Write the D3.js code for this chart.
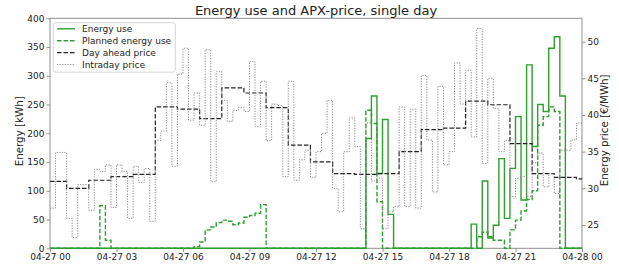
<!DOCTYPE html>
<html><head><meta charset="utf-8">
<script src="https://cdn.jsdelivr.net/npm/d3@7"></script>
<style>
body{margin:0;background:#fff}
svg{display:block}
text{font-family:"DejaVu Sans",sans-serif;fill:#222}
</style>
</head><body>
<svg id="chart" width="619" height="265"></svg>
<script>
// ---------- data ----------
const title = "Energy use and APX-price, single day";
const xTickHours = [0, 3, 6, 9, 12, 15, 18, 21, 24];
const xTickLabels = ["04-27 00","04-27 03","04-27 06","04-27 09","04-27 12","04-27 15","04-27 18","04-27 21","04-28 00"];
const energyTicks = [0, 50, 100, 150, 200, 250, 300, 350, 400];
const priceTicks = [25, 30, 35, 40, 45, 50];
const seriesNames = ["Energy use", "Planned energy use", "Day ahead price", "Intraday price"];

// quarter-hour values (96 per day), kWh
const energyUse = [
  0,0,0,0,0,0,0,0,0,0,0,0,
  0,0,0,0,0,0,0,0,0,0,0,0,
  0,0,0,0,0,0,0,0,0,0,0,0,
  0,0,0,0,0,0,0,0,0,0,0,0,
  0,0,0,0,0,0,0,0,0,191,265,130,
  224,59,0,0,0,0,0,0,0,0,0,0,
  0,0,0,0,42,0,117,18,40,156,52,139,
  229,84,319,177,250,238,348,368,265,0,0,0
];
const plannedUse = [
  0,0,0,0,0,0,0,0,0,74,14,0,
  0,0,0,0,0,0,0,0,0,0,0,0,
  0,0,3,11,32,37,45,49,47,41,44,54,
  57,61,76,0,0,0,0,0,0,0,0,0,
  0,0,0,0,0,0,0,0,0,240,217,81,
  0,0,0,0,0,0,0,0,0,0,0,0,
  0,0,0,0,0,20,28,20,14,14,0,32,
  49,65,85,100,214,229,246,238,0,0,0,0
];
// quarter-hour intraday price, EUR/MWh
const intradayPrice = [
  27.3,34.9,34.9,25.9,23.3,30.5,30.5,27.0,32.6,32.3,33.2,27.4,
  33.2,32.3,25.9,33.0,30.8,32.7,25.5,36.5,37.8,44.4,33.0,45.6,
  49.1,39.3,43.0,38.6,48.9,30.9,45.9,42.0,39.1,40.6,41.0,40.5,
  47.3,38.4,44.6,36.5,41.5,41.3,31.6,44.6,31.1,33.9,35.2,31.5,
  35.0,37.5,42.0,30.0,26.8,35.0,39.6,35.7,24.5,38.9,31.0,31.4,
  24.5,26.8,27.5,41.1,27.5,40.8,27.3,45.4,36.6,29.5,43.9,33.2,
  35.0,47.1,41.5,46.1,37.0,51.8,33.4,45.0,40.9,35.0,36.5,28.9,
  31.4,31.6,28.9,33.5,34.8,30.2,32.0,29.3,35.2,35.2,36.6,38.9
];
// hourly day-ahead price, steps start at these hours
const dayAheadStart = [0,0.75,1.75,2.75,3.75,4.75,5.75,6.75,7.75,8.75,9.75,10.75,11.75,12.75,13.75,14.75,15.75,16.75,17.75,18.75,19.75,20.75,21.75,22.75,23.75];
const dayAheadPrice = [30.95,30.0,31.1,31.6,31.9,41.1,40.8,39.5,43.7,43.0,41.0,35.9,33.6,32.0,31.9,32.0,35.0,38.0,38.2,41.9,41.4,36.1,32.0,31.5,31.3];

// ---------- layout ----------
const L = 50, R = 582, T = 18.3, B = 248.3;
const svg = d3.select("#chart");
const x = d3.scaleLinear().domain([0, 24]).range([L, R]);
const yE = d3.scaleLinear().domain([0, 400]).range([B, T]);
const yP = d3.scaleLinear().domain([21.82, 53.19]).range([B, T]);

const green = "#2ca02c";
const spineColor = "#8f8f8f";

function quarterPoints(vals) {
  const pts = vals.map((v, i) => [i / 4, v]);
  pts.push([24, vals[vals.length - 1]]);
  return pts;
}
function stepPoints(starts, vals) {
  const pts = starts.map((t, i) => [t, vals[i]]);
  pts.push([24, vals[vals.length - 1]]);
  return pts;
}

// spines
svg.append("rect").attr("x", L).attr("y", T).attr("width", R - L).attr("height", B - T)
  .attr("fill", "none").attr("stroke", spineColor).attr("stroke-width", 1);

const plot = svg.append("g");
const lineE = d3.line().x(d => x(d[0])).y(d => yE(d[1])).curve(d3.curveStepAfter);
const lineP = d3.line().x(d => x(d[0])).y(d => yP(d[1])).curve(d3.curveStepAfter);

plot.append("path").attr("d", lineE(quarterPoints(energyUse)))
  .attr("fill", "none").attr("stroke", green).attr("stroke-width", 1.4);
plot.append("path").attr("d", lineE(quarterPoints(plannedUse)))
  .attr("fill", "none").attr("stroke", green).attr("stroke-width", 1.4).attr("stroke-dasharray", "4.5,2");
plot.append("path").attr("d", lineP(stepPoints(dayAheadStart, dayAheadPrice)))
  .attr("fill", "none").attr("stroke", "#222").attr("stroke-width", 1.2).attr("stroke-dasharray", "4.5,2");
plot.append("path").attr("d", lineP(quarterPoints(intradayPrice)))
  .attr("fill", "none").attr("stroke", "#8a8a8a").attr("stroke-width", 1).attr("stroke-dasharray", "1.2,1.4");

// axes
function styleAxis(g) {
  g.select(".domain").remove();
  g.selectAll(".tick line").attr("stroke", spineColor);
  g.selectAll(".tick text").attr("font-size", 9).attr("fill", "#222").style("font-family", '"DejaVu Sans",sans-serif');
}
svg.append("g").attr("transform", `translate(0,${B})`)
  .call(d3.axisBottom(x).tickValues(xTickHours).tickFormat((d, i) => xTickLabels[i]).tickSize(3.5).tickPadding(2))
  .call(styleAxis);
svg.append("g").attr("transform", `translate(${L},0)`)
  .call(d3.axisLeft(yE).tickValues(energyTicks).tickFormat(d3.format("d")).tickSize(3.5).tickPadding(2))
  .call(styleAxis);
svg.append("g").attr("transform", `translate(${R},0)`)
  .call(d3.axisRight(yP).tickValues(priceTicks).tickFormat(d3.format("d")).tickSize(3.5).tickPadding(2))
  .call(styleAxis);

// labels
svg.append("text").attr("x", (L + R) / 2).attr("y", 14.5).attr("text-anchor", "middle")
  .attr("font-size", 13).text(title);
svg.append("text").attr("transform", `translate(23,${(T + B) / 2 - 2}) rotate(-90)`)
  .attr("text-anchor", "middle").attr("font-size", 10.3).text("Energy [kWh]");
svg.append("text").attr("transform", `translate(608,${(T + B) / 2 - 3}) rotate(-90)`)
  .attr("text-anchor", "middle").attr("font-size", 10.3).text("Energy price [€/MWh]");

// legend
const leg = svg.append("g");
leg.append("rect").attr("x", 53.3).attr("y", 22.7).attr("width", 122).attr("height", 49.5)
  .attr("rx", 2.5).attr("fill", "#fff").attr("fill-opacity", 0.8).attr("stroke", "#d5d5d5").attr("stroke-width", 1);
const legStyles = [
  {stroke: green, w: 1.4, dash: null},
  {stroke: green, w: 1.4, dash: "4.5,2"},
  {stroke: "#222", w: 1.2, dash: "4.5,2"},
  {stroke: "#8a8a8a", w: 1, dash: "1.2,1.4"}
];
seriesNames.forEach((name, i) => {
  const yy = 28.8 + i * 11.9;
  const s = legStyles[i];
  const ln = leg.append("line").attr("x1", 57).attr("x2", 75).attr("y1", yy).attr("y2", yy)
    .attr("stroke", s.stroke).attr("stroke-width", s.w);
  if (s.dash) ln.attr("stroke-dasharray", s.dash);
  leg.append("text").attr("x", 82).attr("y", yy).attr("dy", "0.35em").attr("font-size", 9).text(name);
});
</script>
</body></html>
